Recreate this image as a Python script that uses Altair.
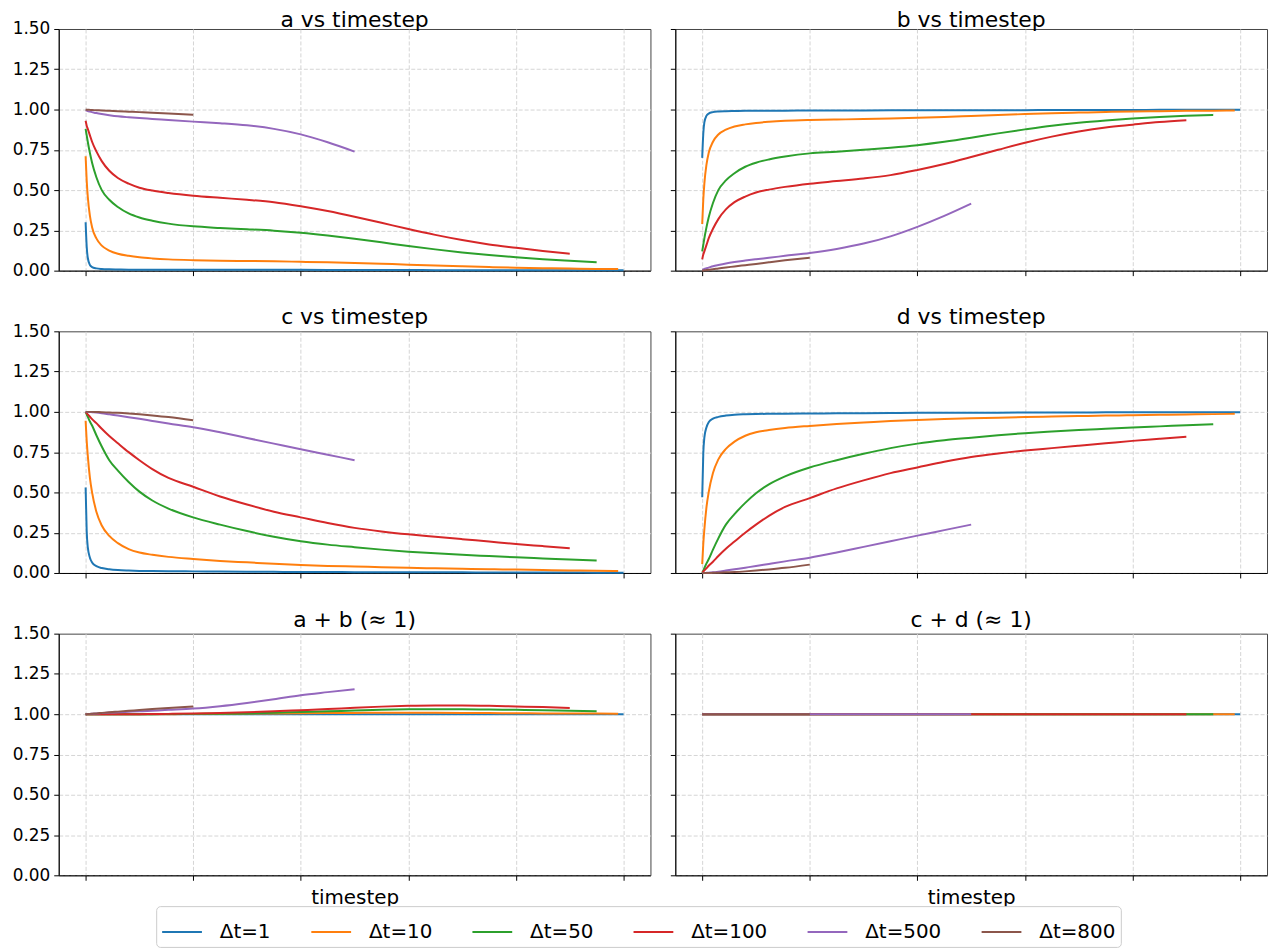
import altair as alt
import pandas as pd

# ---------------- data ----------------
T = [0, 0.01, 0.02, 0.04, 0.06, 0.1, 0.15, 0.22, 0.3, 0.4, 0.5, 0.62, 0.77, 1.0,
     1.25, 1.5, 1.75, 2.0, 2.25, 2.5, 2.75, 3.0, 3.25, 3.5, 3.75, 4.0, 4.25, 4.5,
     4.75, 4.95, 5.0]

SERIES = ["Δt=1", "Δt=10", "Δt=50", "Δt=100", "Δt=500", "Δt=800"]
COLORS = ["#1f77b4", "#ff7f0e", "#2ca02c", "#d62728", "#9467bd", "#8c564b"]
X_TICKS = [0, 1, 2, 3, 4, 5]
Y_TICKS = [0, 0.25, 0.5, 0.75, 1.0, 1.25, 1.5]

# panel a
A_DT1 = [0.30, 0.15, 0.08, 0.035, 0.022, 0.014, 0.010, 0.008, 0.007, 0.006, 0.006, 0.005, 0.005, 0.005,
         0.005, 0.005, 0.005, 0.005, 0.004, 0.004, 0.004, 0.004, 0.003, 0.003, 0.003, 0.003, 0.002, 0.002,
         0.002, 0.002, 0.002]
A_DT10 = [0.71, 0.56, 0.46, 0.34, 0.27, 0.20, 0.155, 0.125, 0.105, 0.092, 0.083, 0.076, 0.07, 0.065,
          0.062, 0.06, 0.058, 0.055, 0.052, 0.048, 0.043, 0.037, 0.032, 0.027, 0.022, 0.018, 0.015, 0.013,
          0.011, 0.010]
A_DT50 = [0.88, 0.84, 0.80, 0.73, 0.67, 0.58, 0.50, 0.44, 0.395, 0.355, 0.33, 0.31, 0.292, 0.275,
          0.265, 0.257, 0.248, 0.235, 0.218, 0.198, 0.176, 0.153, 0.132, 0.113, 0.097, 0.083, 0.071, 0.061,
          0.052]
A_DT100 = [0.93, 0.90, 0.88, 0.84, 0.80, 0.74, 0.68, 0.62, 0.575, 0.54, 0.515, 0.497, 0.482, 0.465,
           0.452, 0.44, 0.425, 0.40, 0.37, 0.335, 0.297, 0.258, 0.222, 0.19, 0.163, 0.142, 0.122, 0.105]
A_DT500 = [0.995, 0.993, 0.99, 0.987, 0.984, 0.978, 0.972, 0.965, 0.958, 0.952, 0.947, 0.942, 0.935, 0.925,
           0.915, 0.902, 0.88, 0.846, 0.797, 0.739]
A_DT800 = [1.0, 0.999, 0.999, 0.998, 0.997, 0.996, 0.994, 0.992, 0.99, 0.987, 0.984, 0.98, 0.975, 0.968]

# panel b
B_DT1 = [0.70, 0.85, 0.92, 0.962, 0.975, 0.984, 0.988, 0.99, 0.991, 0.992, 0.992, 0.993, 0.993, 0.994,
         0.994, 0.994, 0.995, 0.995, 0.995, 0.996, 0.996, 0.996, 0.997, 0.997, 0.997, 0.997, 0.998, 0.998,
         0.998, 0.998, 0.998]
B_DT10 = [0.29, 0.44, 0.54, 0.66, 0.73, 0.80, 0.845, 0.875, 0.895, 0.908, 0.917, 0.924, 0.93, 0.935,
          0.938, 0.941, 0.945, 0.949, 0.954, 0.96, 0.966, 0.972, 0.977, 0.981, 0.985, 0.988, 0.99, 0.992,
          0.993, 0.994]
B_DT50 = [0.12, 0.16, 0.20, 0.27, 0.33, 0.42, 0.50, 0.56, 0.605, 0.645, 0.67, 0.69, 0.708, 0.728,
          0.738, 0.75, 0.763, 0.779, 0.80, 0.825, 0.852, 0.877, 0.90, 0.918, 0.932, 0.944, 0.953, 0.961,
          0.967]
B_DT100 = [0.07, 0.10, 0.12, 0.16, 0.20, 0.26, 0.32, 0.38, 0.425, 0.46, 0.485, 0.503, 0.52, 0.54,
           0.556, 0.572, 0.593, 0.625, 0.662, 0.705, 0.75, 0.794, 0.832, 0.864, 0.889, 0.906, 0.922, 0.934]
B_DT500 = [0.005, 0.007, 0.011, 0.015, 0.019, 0.027, 0.035, 0.045, 0.054, 0.063, 0.071, 0.08, 0.092, 0.11,
           0.135, 0.168, 0.213, 0.272, 0.34, 0.416]
B_DT800 = [0.0, 0.001, 0.002, 0.004, 0.006, 0.009, 0.014, 0.02, 0.026, 0.034, 0.042, 0.052, 0.064, 0.08]

# panel c
C_DT1 = [0.53, 0.26, 0.16, 0.095, 0.065, 0.042, 0.031, 0.023, 0.018, 0.015, 0.013, 0.012, 0.011, 0.01,
         0.009, 0.008, 0.007, 0.006, 0.006, 0.005, 0.005, 0.004, 0.004, 0.004, 0.003, 0.003, 0.003, 0.003,
         0.002, 0.002, 0.002]
C_DT10 = [0.945, 0.82, 0.73, 0.59, 0.50, 0.38, 0.295, 0.23, 0.185, 0.148, 0.127, 0.113, 0.10, 0.087,
          0.075, 0.066, 0.057, 0.05, 0.044, 0.04, 0.036, 0.032, 0.029, 0.026, 0.023, 0.021, 0.018, 0.016,
          0.014, 0.012]
C_DT50 = [1.0, 0.985, 0.97, 0.94, 0.915, 0.855, 0.785, 0.70, 0.635, 0.565, 0.505, 0.45, 0.40, 0.345,
          0.30, 0.26, 0.225, 0.197, 0.176, 0.16, 0.145, 0.132, 0.122, 0.113, 0.105, 0.097, 0.09, 0.083,
          0.077]
C_DT100 = [1.0, 0.992, 0.984, 0.97, 0.955, 0.93, 0.895, 0.85, 0.805, 0.75, 0.70, 0.645, 0.59, 0.535,
           0.475, 0.425, 0.38, 0.345, 0.31, 0.28, 0.258, 0.24, 0.225, 0.21, 0.195, 0.18, 0.167, 0.154]
C_DT500 = [1.0, 1.0, 1.0, 0.999, 0.998, 0.996, 0.992, 0.985, 0.977, 0.967, 0.957, 0.944, 0.928, 0.905,
           0.873, 0.838, 0.803, 0.768, 0.734, 0.70]
C_DT800 = [1.0, 1.0, 1.0, 1.0, 1.0, 0.999, 0.998, 0.996, 0.994, 0.99, 0.985, 0.978, 0.968, 0.948]

# panel d
D_DT1 = [0.47, 0.74, 0.84, 0.905, 0.935, 0.958, 0.969, 0.977, 0.982, 0.985, 0.987, 0.988, 0.989, 0.99,
         0.991, 0.992, 0.993, 0.994, 0.994, 0.995, 0.995, 0.996, 0.996, 0.996, 0.997, 0.997, 0.997, 0.997,
         0.998, 0.998, 0.998]
D_DT10 = [0.055, 0.18, 0.27, 0.41, 0.50, 0.62, 0.705, 0.77, 0.815, 0.852, 0.873, 0.887, 0.90, 0.913,
          0.925, 0.934, 0.943, 0.95, 0.956, 0.96, 0.964, 0.968, 0.971, 0.974, 0.977, 0.979, 0.982, 0.984,
          0.986, 0.988]
D_DT50 = [0.0, 0.015, 0.03, 0.06, 0.085, 0.145, 0.215, 0.30, 0.365, 0.435, 0.495, 0.55, 0.60, 0.655,
          0.70, 0.74, 0.775, 0.803, 0.824, 0.84, 0.855, 0.868, 0.878, 0.887, 0.895, 0.903, 0.91, 0.917,
          0.923]
D_DT100 = [0.0, 0.008, 0.016, 0.03, 0.045, 0.07, 0.105, 0.15, 0.195, 0.25, 0.30, 0.355, 0.41, 0.465,
           0.525, 0.575, 0.62, 0.655, 0.69, 0.72, 0.742, 0.76, 0.775, 0.79, 0.805, 0.82, 0.833, 0.846]
D_DT500 = [0.0, 0.0, 0.0, 0.001, 0.002, 0.004, 0.008, 0.015, 0.023, 0.033, 0.043, 0.056, 0.072, 0.095,
           0.127, 0.162, 0.197, 0.232, 0.266, 0.30]
D_DT800 = [0.0, 0.0, 0.0, 0.0, 0.0, 0.001, 0.002, 0.004, 0.006, 0.01, 0.015, 0.022, 0.032, 0.052]

# panel a + b
AB_DT1 = [1.0] * 31
AB_DT10 = [1.0, 1.0, 1.0, 1.0, 1.0, 1.0, 1.0, 1.0, 1.0, 1.0, 1.0, 1.0, 1.0, 1.002,
           1.003, 1.004, 1.005, 1.006, 1.007, 1.008, 1.009, 1.009, 1.009, 1.008, 1.007, 1.006, 1.005, 1.004,
           1.004, 1.003]
AB_DT50 = [1.0, 1.0, 1.0, 1.0, 1.0, 1.0, 1.0, 1.0, 1.0, 1.0, 1.0, 1.0, 1.001, 1.002,
           1.003, 1.005, 1.009, 1.014, 1.018, 1.023, 1.027, 1.03, 1.031, 1.031, 1.029, 1.027, 1.025, 1.022,
           1.019]
AB_DT100 = [1.0, 1.0, 1.0, 1.0, 1.0, 1.0, 1.0, 1.0, 1.0, 1.0, 1.0, 1.001, 1.002, 1.004,
            1.008, 1.012, 1.018, 1.025, 1.032, 1.04, 1.047, 1.052, 1.054, 1.054, 1.052, 1.048, 1.044, 1.039]
AB_DT500 = [1.0, 1.0, 1.001, 1.002, 1.003, 1.005, 1.007, 1.01, 1.012, 1.015, 1.018, 1.022, 1.027, 1.035,
            1.05, 1.07, 1.093, 1.118, 1.137, 1.155]
AB_DT800 = [1.0, 1.0, 1.001, 1.002, 1.003, 1.005, 1.008, 1.012, 1.016, 1.021, 1.026, 1.032, 1.039, 1.048]

# panel c + d
CD_DT1 = [1.0] * 31
CD_DT10 = [1.0] * 30
CD_DT50 = [1.0] * 29
CD_DT100 = [1.0] * 28
CD_DT500 = [1.0] * 20
CD_DT800 = [1.0] * 14

PANELS = [
    ("a vs timestep", [A_DT1, A_DT10, A_DT50, A_DT100, A_DT500, A_DT800]),
    ("b vs timestep", [B_DT1, B_DT10, B_DT50, B_DT100, B_DT500, B_DT800]),
    ("c vs timestep", [C_DT1, C_DT10, C_DT50, C_DT100, C_DT500, C_DT800]),
    ("d vs timestep", [D_DT1, D_DT10, D_DT50, D_DT100, D_DT500, D_DT800]),
    ("a + b (≈ 1)", [AB_DT1, AB_DT10, AB_DT50, AB_DT100, AB_DT500, AB_DT800]),
    ("c + d (≈ 1)", [CD_DT1, CD_DT10, CD_DT50, CD_DT100, CD_DT500, CD_DT800]),
]

FONT = "DejaVu Sans"
W, H = 595, 243


def make_df(series_values):
    rows = []
    for k, (name, vals) in enumerate(zip(SERIES, series_values)):
        for i, v in enumerate(vals):
            rows.append({"t": T[i], "v": v, "series": name, "k": k})
    return pd.DataFrame(rows)


GRID_OPACITY = {"condition": {"test": "datum.value >= 1.5", "value": 0}, "value": 1}


def panel(idx):
    title, vals = PANELS[idx]
    row, col = divmod(idx, 2)
    left = col == 0
    bottom = row == 2
    x_axis = alt.Axis(values=X_TICKS, labels=False, title="timestep" if bottom else None,
                      grid=True)
    y_axis = alt.Axis(values=Y_TICKS, labels=left, format=".2f", title=None, grid=True,
                      gridOpacity=GRID_OPACITY)
    legend = alt.Legend(
        title=None, orient="none", legendX=98, legendY=882, direction="horizontal",
        columns=6, columnPadding=36, symbolType="stroke", symbolSize=1600,
        symbolStrokeWidth=2, labelFontSize=20, labelFont=FONT, labelOffset=17,
        padding=5, strokeColor="#cccccc", fillColor="white", cornerRadius=4,
        labelColor="black",
    )
    lines = alt.Chart(make_df(vals)).mark_line(strokeWidth=2, interpolate="monotone").encode(
        x=alt.X("t:Q", scale=alt.Scale(domain=[-0.25, 5.25], nice=False, zero=False), axis=x_axis),
        y=alt.Y("v:Q", scale=alt.Scale(domain=[0, 1.5], nice=False, zero=False), axis=y_axis),
        color=alt.Color("series:N", scale=alt.Scale(domain=SERIES, range=COLORS), legend=legend),
        order=alt.Order("t:Q"),
    )
    ty = -1.5 if row == 0 else -7
    head = alt.Chart(pd.DataFrame({"title": [title]})).mark_text(
        font=FONT, fontSize=22, color="black", align="center", baseline="alphabetic"
    ).encode(x=alt.value(W / 2), y=alt.value(ty), text="title:N")
    return alt.layer(lines, head).properties(width=W, height=H)


rows = [alt.hconcat(panel(2 * r), panel(2 * r + 1), spacing=18) for r in range(3)]
chart = alt.vconcat(*rows, spacing=26).resolve_scale(color="shared").resolve_legend(color="shared")

chart = chart.properties(
    padding={"left": 3, "top": -1.5, "right": 5, "bottom": 0}, background="white"
).configure_axis(
    labelFont=FONT, titleFont=FONT, labelFontSize=17, titleFontSize=20,
    titleFontWeight="normal", labelColor="black", titleColor="black",
    tickColor="black", domainColor="black", tickSize=5, labelPadding=4, titlePadding=7,
    gridColor="#d5d5d5", gridDash=[4, 2], gridWidth=1,
).configure_view(stroke="#444444", strokeWidth=1)

chart.save("out.html", embed_options={"renderer": "svg", "actions": False})
